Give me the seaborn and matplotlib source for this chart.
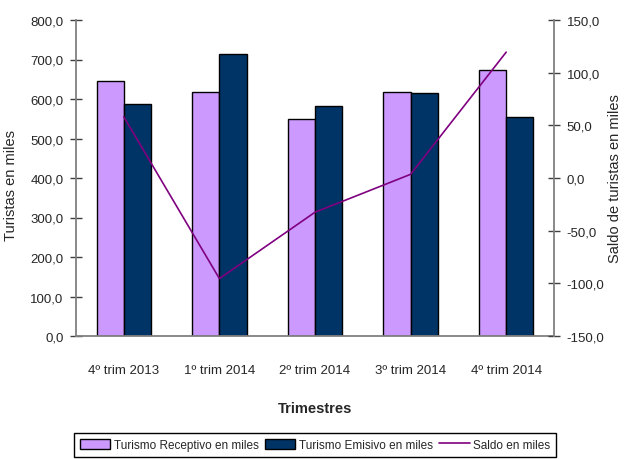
import numpy as np
import pandas as pd
import matplotlib
matplotlib.use('Agg')
import matplotlib.pyplot as plt
from matplotlib.ticker import FuncFormatter, FixedLocator, MultipleLocator
from matplotlib.patches import Patch
from matplotlib.lines import Line2D
import seaborn as sns

# data
trimestres = ['4º trim 2013', '1º trim 2014', '2º trim 2014', '3º trim 2014', '4º trim 2014']
receptivo = [645.5, 618.5, 549.5, 618.0, 673.0]
emisivo = [587.5, 714.0, 582.0, 614.5, 553.5]
saldo = [58.0, -95.5, -32.5, 3.5, 119.5]

df = pd.DataFrame({
    'trimestre': trimestres * 2,
    'valor': receptivo + emisivo,
    'serie': ['Turismo Receptivo en miles'] * 5 + ['Turismo Emisivo en miles'] * 5,
})

sns.set_style('white')
plt.rcParams['font.family'] = ['Liberation Sans', 'DejaVu Sans']

col_rec = '#CC99FF'
col_emi = '#003366'
col_sal = '#800080'
axis_gray = '#808080'

fig = plt.figure(figsize=(6.26, 4.6), dpi=100)
ax = fig.add_axes([76 / 626, 1 - 337 / 460, (554 - 76) / 626, (337 - 21) / 460])

sns.barplot(data=df, x='trimestre', y='valor', hue='serie',
            palette=[col_rec, col_emi], width=0.57, gap=0,
            edgecolor='black', linewidth=1, saturation=1, ax=ax, legend=False)

ax.set_xlim(-0.5, 4.5)
ax.set_ylim(0, 800)
ax.yaxis.set_major_locator(MultipleLocator(100))
fmt = FuncFormatter(lambda v, p: f'{v:.1f}'.replace('.', ','))
ax.yaxis.set_major_formatter(fmt)

# ticks between groups on the category axis
ax.set_xticks(range(len(trimestres)))
ax.set_xticklabels(trimestres)
ax.xaxis.set_minor_locator(FixedLocator(np.arange(-0.5, 5, 1.0)))
ax.tick_params(axis='x', which='major', length=0, pad=20, labelsize=9.5)
ax.tick_params(axis='x', which='minor', length=7, width=1, direction='out', color='#404040')
ax.tick_params(axis='y', length=8, width=1, direction='inout', color='#404040', labelsize=9.5, pad=5)

ax.set_xlabel('Trimestres', fontsize=10.5, fontweight='bold', labelpad=18)
ax.set_ylabel('Turistas en miles', fontsize=10.5)
ax.yaxis.set_label_coords(-0.121, 0.48)

for s in ['top', 'right']:
    ax.spines[s].set_visible(False)
for s in ['left', 'bottom']:
    ax.spines[s].set_color(axis_gray)
    ax.spines[s].set_linewidth(1.3)

# secondary axis with the balance
ax2 = ax.twinx()
sns.lineplot(x=np.arange(len(trimestres)), y=saldo, color=col_sal, linewidth=1.2, ax=ax2)
ax2.set_ylim(-150, 150)
ax2.yaxis.set_major_locator(MultipleLocator(50))
ax2.yaxis.set_major_formatter(fmt)
ax2.tick_params(axis='y', length=8, width=1, direction='inout', color='#404040', labelsize=9.5, pad=5)
ax2.set_ylabel('Saldo de turistas en miles', fontsize=10.5, rotation=90)
ax2.yaxis.set_label_coords(1.112, 0.5)
for s in ['top', 'left', 'bottom']:
    ax2.spines[s].set_visible(False)
ax2.spines['right'].set_color(axis_gray)
ax2.spines['right'].set_linewidth(1.3)

handles = [
    Patch(facecolor=col_rec, edgecolor='black', linewidth=1, label='Turismo Receptivo en miles'),
    Patch(facecolor=col_emi, edgecolor='black', linewidth=1, label='Turismo Emisivo en miles'),
    Line2D([], [], color=col_sal, linewidth=1.2, label='Saldo en miles'),
]
leg = fig.legend(handles=handles, loc='center', bbox_to_anchor=(315 / 626, 1 - 446 / 460),
                 ncol=3, fontsize=8.5, frameon=True, fancybox=False, edgecolor='black',
                 framealpha=1, borderpad=0.5, handlelength=2.6, handleheight=1.0,
                 handletextpad=0.3, columnspacing=0.5)
leg.get_frame().set_linewidth(1)

fig.savefig('out.png', dpi=100)
